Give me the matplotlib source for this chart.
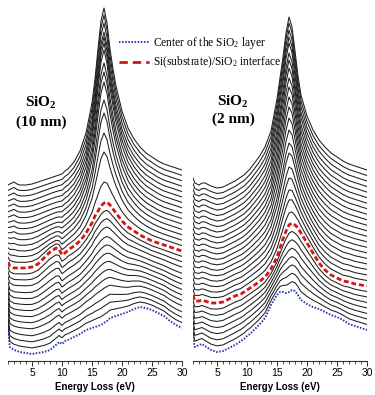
import numpy as np
import matplotlib.pyplot as plt
from matplotlib.lines import Line2D

plt.rcParams['font.family'] = 'Liberation Sans'
plt.rcParams['mathtext.fontset'] = 'custom'
plt.rcParams['mathtext.rm'] = 'Liberation Serif'
plt.rcParams['mathtext.default'] = 'regular'

# energy loss grid (eV)
energy = [1.0, 1.3, 2, 2.5, 3, 4, 5, 6, 7, 8, 9, 9.5, 10, 10.5, 11, 12, 13, 14, 15, 15.5,
          16, 16.5, 17, 17.5, 18, 18.5, 19, 20, 21, 22, 23, 24, 25, 26, 27, 28, 29, 30]

# ---- SiO2 (10 nm) ---- intensities in a.u.
center_10 = [30, 14, 11, 10, 9, 8, 7, 8, 9, 11, 16, 19, 17, 20, 21, 24, 27, 31, 33, 34,
             35, 36, 38, 40, 43, 44, 45, 47, 49, 52, 54, 53, 51, 48, 45, 40, 36, 33]
iface_10 = [99, 95, 93, 93, 93, 93, 94, 97, 103, 109, 113, 112, 106, 108, 111, 115, 120, 128, 138, 145,
            150, 155, 158, 159, 156, 152, 148, 140, 134, 130, 126, 123, 120, 118, 116, 114, 112, 110]
top_10 = [176, 177, 179, 177, 176, 176, 177, 179, 181, 183, 185, 186, 187, 190, 192, 199, 210, 228, 258, 282,
          312, 340, 353, 338, 312, 292, 275, 250, 233, 222, 214, 208, 204, 200, 197, 195, 193, 191]
# spectra between layer centre and interface (fraction of the way up)
lower_mix_10 = [0.07, 0.14, 0.21, 0.29, 0.36, 0.43, 0.5, 0.57, 0.64, 0.71, 0.79, 0.86, 0.93]
# plasmon peak heights of the spectra above the interface
peaks_10 = [179, 209, 228, 248, 261, 279, 289, 298, 311, 318, 324, 329, 338, 346, 353]

# ---- SiO2 (2 nm) ----
center_2 = [24, 14, 16, 17, 15, 11, 9, 10, 13, 16, 20, 22, 25, 27, 30, 36, 43, 56, 66, 69,
            69, 68, 69, 71, 70, 66, 61, 57, 54, 52, 49, 46, 44, 41, 37, 35, 33, 31]
iface_2 = [66, 60, 60, 61, 60, 58, 58, 59, 62, 65, 67, 69, 71, 73, 75, 79, 84, 92, 104, 113,
           122, 130, 136, 138, 136, 133, 128, 118, 108, 98, 91, 86, 83, 80, 79, 77, 76, 75]
top_2 = [183, 178, 176, 178, 178, 175, 173, 174, 177, 180, 184, 186, 189, 192, 196, 204, 214, 230, 262, 283,
         304, 328, 344, 334, 310, 285, 266, 245, 231, 221, 214, 208, 204, 200, 197, 195, 193, 191]
lower_mix_2 = [0.125, 0.25, 0.375, 0.5, 0.625, 0.75, 0.875]
peaks_2 = [148, 161, 171, 183, 194, 208, 218, 231, 243, 254, 264, 274, 283, 293, 301, 308, 318,
           324, 331, 338, 344]


def stack(center, iface, top, lower_mix, peaks):
    c = np.array(center, float)
    r = np.array(iface, float)
    t = np.array(top, float)
    out = [c + m * (r - c) for m in lower_mix]
    d = t - r
    s = d[-1]
    ip = int(np.argmax(t))
    n = len(peaks)
    for j, pk in enumerate(peaks, start=1):
        o = j / n
        p = (pk - r[ip] - o * s) / (d[ip] - s)
        out.append(r + o * s + p * (d - s))
    return out


fig = plt.figure(figsize=(3.75, 3.95), dpi=100)
ax1 = fig.add_axes([8/375, 34/395, 174/375, 361/395])
ax2 = fig.add_axes([193/375, 34/395, 174/375, 361/395])

panels = [(ax1, center_10, iface_10, top_10, lower_mix_10, peaks_10),
          (ax2, center_2, iface_2, top_2, lower_mix_2, peaks_2)]

for ax, c, r, t, lm, pk in panels:
    for y in stack(c, r, t, lm, pk):
        ax.plot(energy, y, color='#1e1e1e', lw=0.75)
    ax.plot(energy, r, color='#d41515', lw=2.0, ls=(0, (1.8, 1.0)))
    ax.plot(energy, c, color='#2a35b0', lw=1.4, ls=(0, (0.8, 0.8)))
    ax.set_xlim(1, 30)
    ax.set_ylim(0, 361)
    for sp in ['left', 'top', 'right']:
        ax.spines[sp].set_visible(False)
    ax.spines['bottom'].set_linewidth(0.8)
    ax.spines['bottom'].set_color('#333333')
    ax.set_yticks([])
    ax.set_xticks([5, 10, 15, 20, 25, 30])
    ax.set_xticks(np.arange(1, 31, 1), minor=True)
    ax.tick_params(axis='x', which='major', length=3.5, width=0.7, labelsize=7.5, pad=1.5,
                   color='#333333')
    ax.tick_params(axis='x', which='minor', length=2, width=0.6, color='#333333')
    ax.set_xlabel('Energy Loss (eV)', fontsize=7, fontweight='bold', labelpad=3)
    ax.patch.set_alpha(0)

serif = 'Liberation Serif'
fig.text(41/375, 1 - 107/395, 'SiO$_2$', ha='center', va='baseline', family=serif,
         fontweight='bold', fontsize=11)
fig.text(41/375, 1 - 126/395, '(10 nm)', ha='center', va='baseline', family=serif,
         fontweight='bold', fontsize=11)
fig.text(233/375, 1 - 106/395, 'SiO$_2$', ha='center', va='baseline', family=serif,
         fontweight='bold', fontsize=11)
fig.text(233/375, 1 - 123/395, '(2 nm)', ha='center', va='baseline', family=serif,
         fontweight='bold', fontsize=11)

h1 = Line2D([], [], color='#2a35b0', lw=1.4, ls=(0, (0.8, 0.8)))
h2 = Line2D([], [], color='#d41515', lw=2.0, ls=(0, (3.0, 1.8)))
fig.legend([h1, h2], ['Center of the SiO$_2$ layer', 'Si(substrate)/SiO$_2$ interface'],
           loc='upper left', bbox_to_anchor=(119/375, 1 - 35/395), frameon=False,
           prop={'family': serif, 'size': 8.3}, handlelength=2.6, handletextpad=0.35,
           labelspacing=0.35, borderpad=0, borderaxespad=0)

fig.savefig('out.png', dpi=100)
